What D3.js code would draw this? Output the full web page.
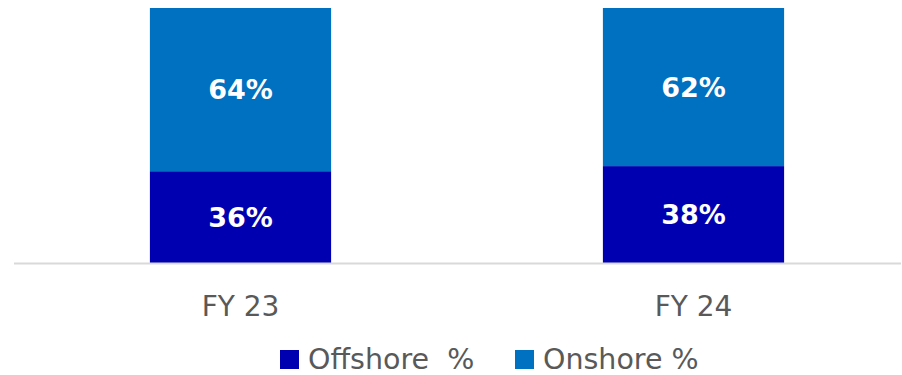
<!DOCTYPE html>
<html>
<head>
<meta charset="utf-8">
<script src="https://cdn.jsdelivr.net/npm/d3@7"></script>
<style>
  body { margin: 0; background: #fff; }
  svg text { font-family: "DejaVu Sans", sans-serif; }
</style>
</head>
<body>
<div id="master"></div>
<script>
let categories = ["FY 23", "FY 24"]
let offshore = [36, 38]
let onshore = [64, 62]
let seriesNames = ["Offshore\u00a0 %", "Onshore %"]
let colors = ["#0000B0", "#0070C0"]

let w = 902
let h = 375

let svg = d3.select("#master")
  .append("svg")
  .attr("width", w)
  .attr("height", h)

let xScale = d3.scaleBand()
  .domain(categories)
  .range([14, 920])
  .paddingInner(0.6)
  .paddingOuter(0.3)

let yScale = d3.scaleLinear().domain([0, 100]).range([263, 8])

let stackData = categories.map((c, i) => ({ cat: c, off: offshore[i], on: onshore[i] }))
let stacked = d3.stack().keys(["off", "on"])(stackData)

// bars
let layers = svg.append("g")
  .selectAll("g")
  .data(stacked)
  .enter()
  .append("g")
  .attr("fill", (d, i) => colors[i])

layers.selectAll("rect")
  .data(d => d)
  .enter()
  .append("rect")
  .attr("x", d => xScale(d.data.cat))
  .attr("width", xScale.bandwidth())
  .attr("y", d => yScale(d[1]))
  .attr("height", d => yScale(d[0]) - yScale(d[1]))

// value labels
layers.selectAll("text")
  .data(d => d)
  .enter()
  .append("text")
  .attr("x", d => xScale(d.data.cat) + xScale.bandwidth() / 2)
  .attr("y", d => (yScale(d[0]) + yScale(d[1])) / 2)
  .attr("dy", "0.36em")
  .attr("text-anchor", "middle")
  .attr("fill", "#fff")
  .attr("font-weight", "bold")
  .attr("font-size", "27px")
  .text(d => (d[1] - d[0]) + "%")

// axis line
svg.append("line")
  .attr("x1", 14).attr("x2", 901)
  .attr("y1", 263.5).attr("y2", 263.5)
  .attr("stroke", "#d9d9d9")
  .attr("stroke-width", 2)

svg.append("g")
  .selectAll("text")
  .data(categories)
  .enter()
  .append("text")
  .attr("x", d => xScale(d) + xScale.bandwidth() / 2)
  .attr("y", 316)
  .attr("text-anchor", "middle")
  .attr("fill", "#595959")
  .attr("font-size", "28px")
  .text(d => d)

// legend (nudged up a bit so the text box stays inside the frame)
let legendX = [280, 515]
let legend = svg.append("g").attr("id", "legend")
  .selectAll("g")
  .data(seriesNames)
  .enter()
  .append("g")
  .attr("transform", (d, i) => "translate(" + legendX[i] + ",350)")

legend.append("rect")
  .attr("width", 19).attr("height", 19)
  .attr("fill", (d, i) => colors[i])

legend.append("text")
  .attr("x", 28)
  .attr("y", 19)
  .attr("fill", "#595959")
  .attr("font-size", "28.5px")
  .text(d => d)
</script>
</body>
</html>
